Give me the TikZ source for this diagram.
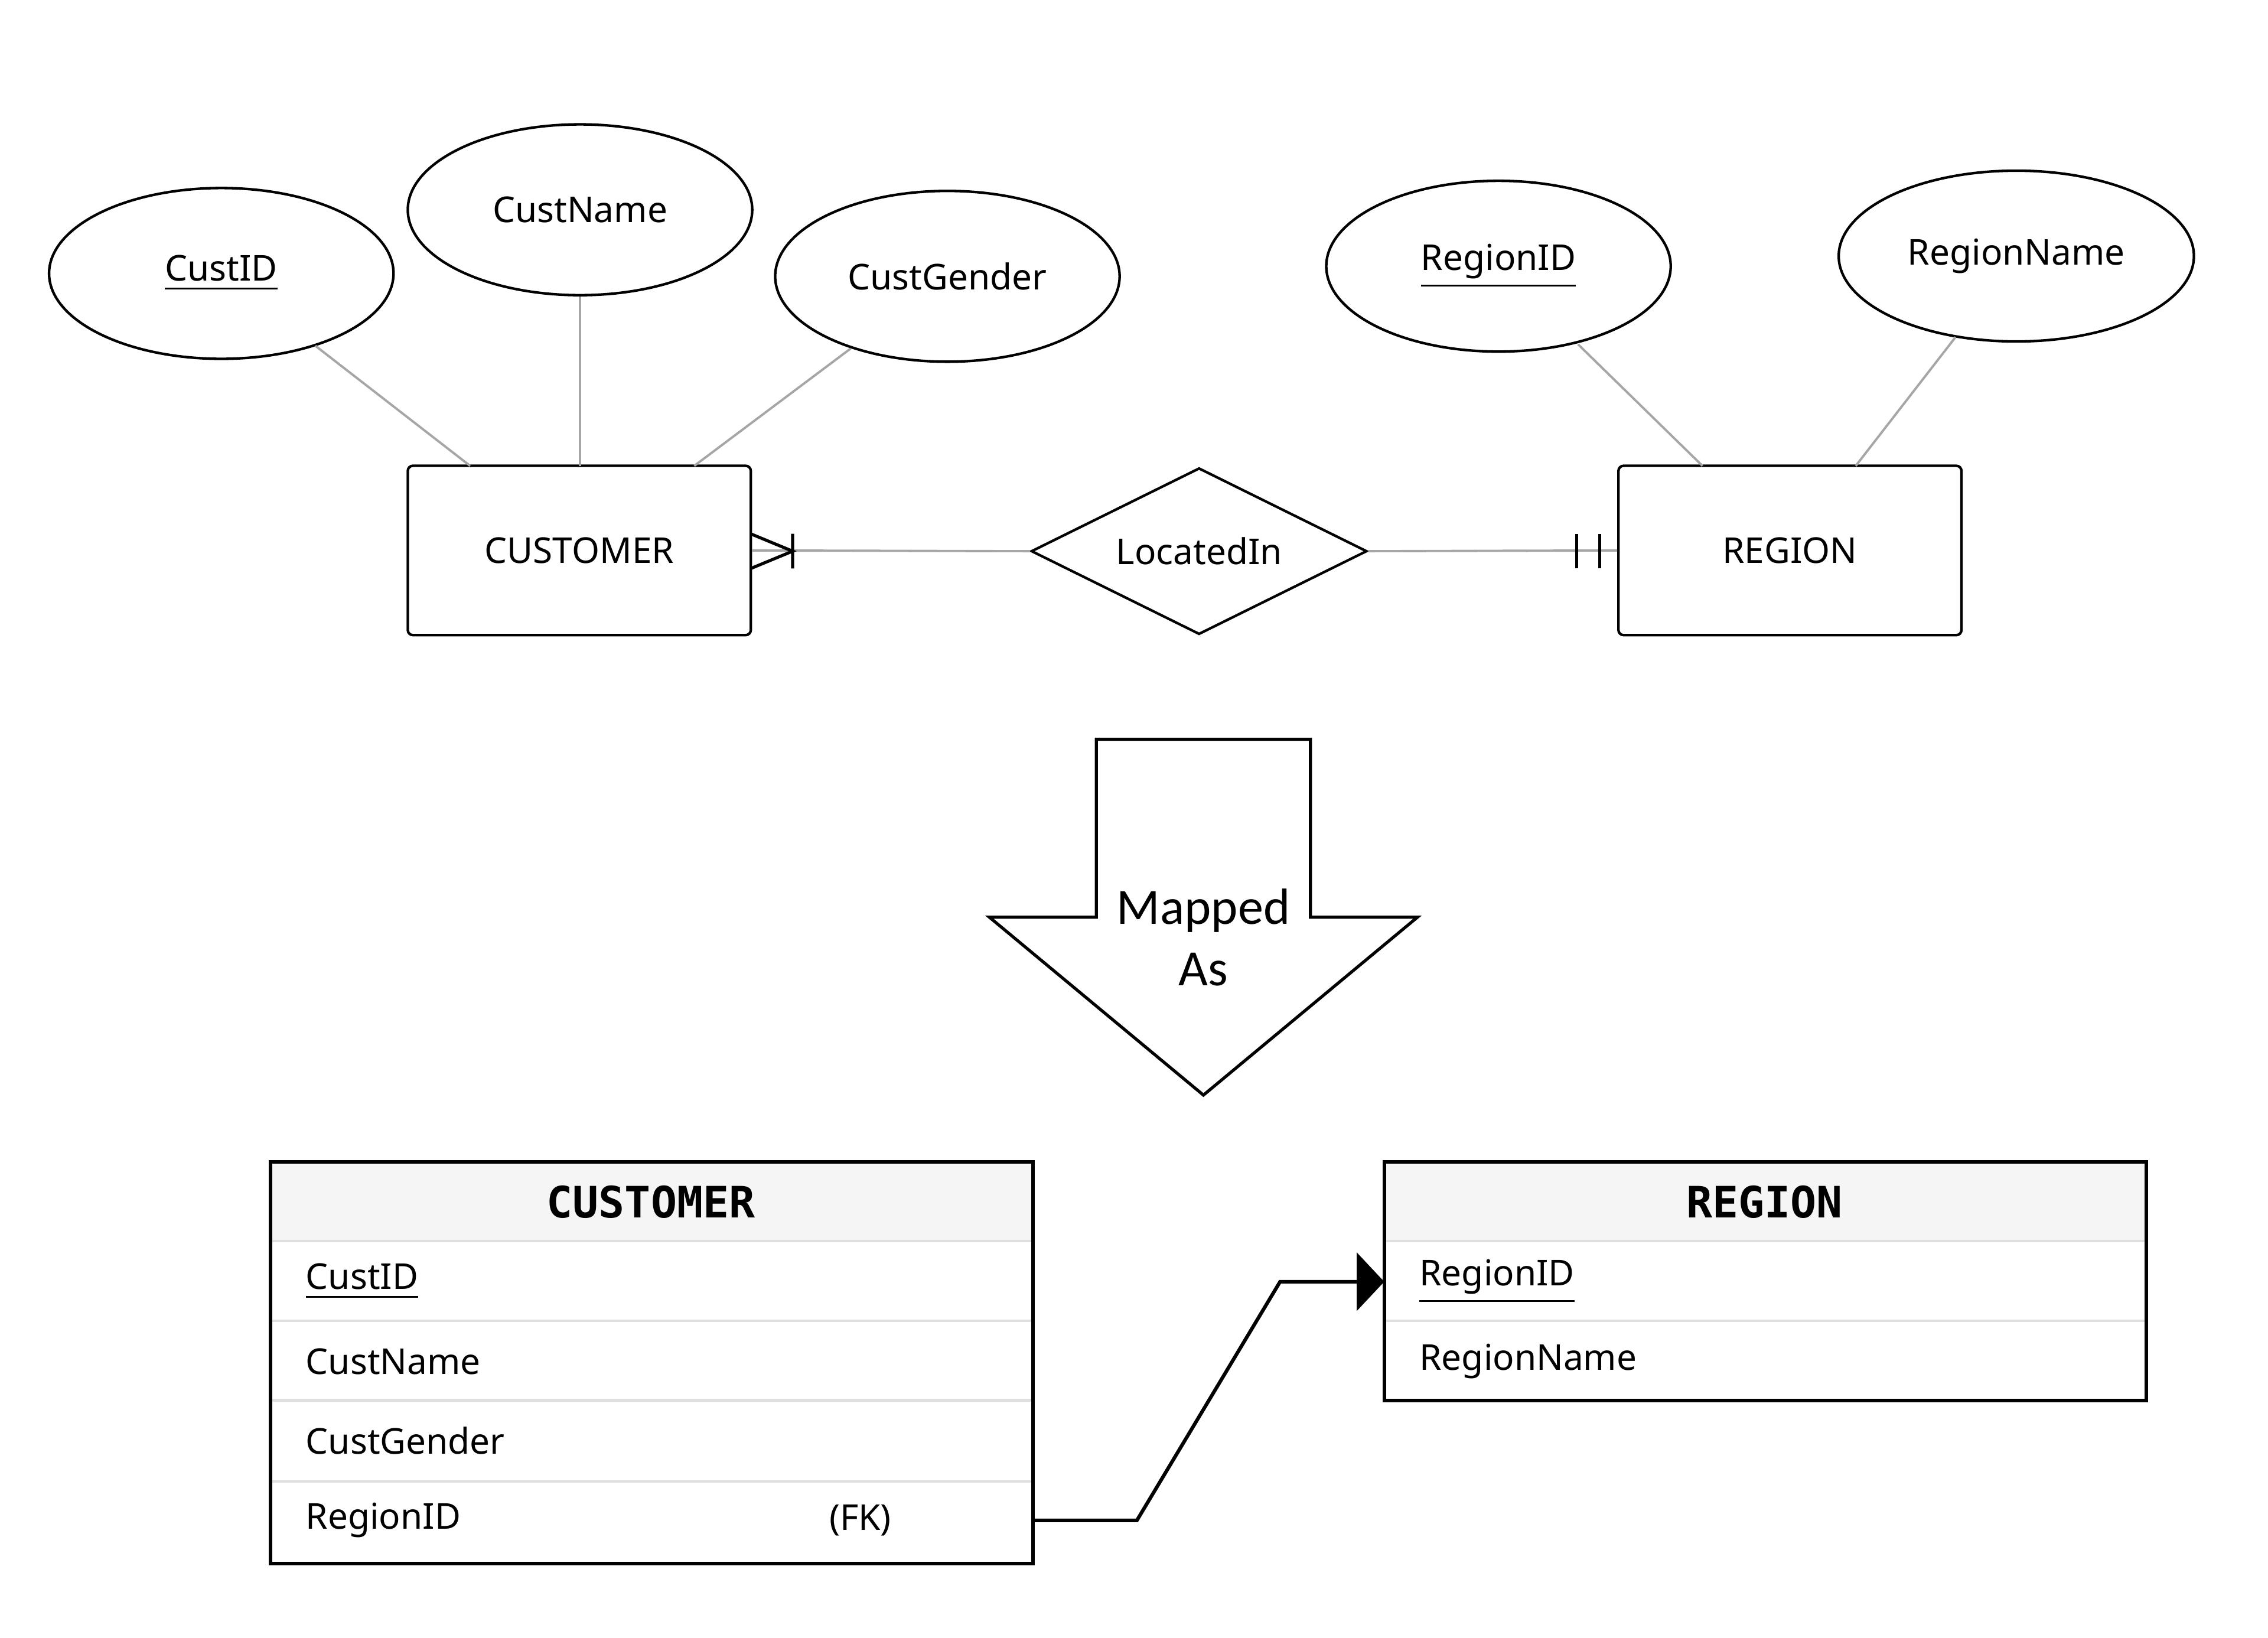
\documentclass[tikz,border=0pt]{standalone}
\usepackage{fontspec}
\setmainfont{Noto Sans}
\newfontfamily\mymonob{DejaVu Sans Mono}
\newfontfamily\mycarl{Carlito}
\usetikzlibrary{shapes.geometric,arrows.meta}
\begin{document}
\begin{tikzpicture}[x=0.01cm,y=-0.01cm,
  attr/.style={draw,ellipse,minimum width=2.38cm,minimum height=1.18cm,font=\fontsize{7}{8}\selectfont,line width=0.5pt},
  ent/.style={draw,rounded corners=1pt,minimum width=2.37cm,minimum height=1.17cm,font=\fontsize{7}{8}\selectfont,line width=0.5pt},
  conn/.style={draw=gray!70,line width=0.45pt},
  cell/.style={anchor=west,font=\fontsize{7}{8}\selectfont},
  hdr/.style={font=\mymonob\bfseries\fontsize{8.5}{10}\selectfont}]
\useasboundingbox (0,0) rectangle (1568,1132);
% ER
\node[attr] (cid) at (153,189) {\underline{CustID}};
\node[attr] (cname) at (401,145) {CustName};
\node[attr] (cgen) at (655,191) {CustGender};
\node[attr] (rid) at (1036,184) {\underline{RegionID}};
\node[attr] (rname) at (1394,177) {RegionName};
\node[ent] (cust) at (400.5,380.5) {CUSTOMER};
\node[ent] (reg) at (1237.5,380.5) {REGION};
\node[draw,diamond,aspect=2,minimum width=2.32cm,minimum height=1.15cm,inner sep=0pt,font=\fontsize{7}{8}\selectfont,line width=0.5pt] (loc) at (829,381) {LocatedIn};
\coordinate (c1) at (325,322); \coordinate (c2) at (401,322); \coordinate (c3) at (480,322);
\coordinate (r1) at (1177,322); \coordinate (r2) at (1283,322);
\draw[conn] (218,239) -- (c1);
\draw[conn] (cname) -- (c2);
\draw[conn] (588,241) -- (c3);
\draw[conn] (1091,238) -- (r1);
\draw[conn] (1352,233) -- (r2);
\draw[conn] (cust.east) -- (loc.west);
\draw[conn] (loc.east) -- (reg.west);
\draw[line width=0.6pt] (519,369) -- (548,381) -- (519,393) (548,369) -- (548,393);
\draw[line width=0.6pt] (1090,369) -- (1090,393) (1106,369) -- (1106,393);
% big arrow
\draw[line width=0.6pt] (758,511) -- (906,511) -- (906,634) -- (980,634) -- (832,757) -- (684,634) -- (758,634) -- cycle;
\node[font=\mycarl\fontsize{10}{12}\selectfont,align=center] (ma) at (832,648) {Mapped\\As};
% tables
\fill[gray!8] (187,803) rectangle (714,858);
\fill[gray!8] (957,803) rectangle (1484,858);
\foreach \y in {858,913,968,1024} \draw[gray!25,line width=0.5pt] (187,\y) -- (714,\y);
\foreach \y in {858,913} \draw[gray!25,line width=0.5pt] (957,\y) -- (1484,\y);
\draw[line width=0.7pt] (187,803) rectangle (714,1081);
\draw[line width=0.7pt] (957,803) rectangle (1484,968);
\node[hdr] (th1) at (450,831) {CUSTOMER};
\node[hdr] (th2) at (1220,831) {REGION};
\node[cell] (t1) at (199,886) {\bfseries\underline{CustID}};
\node[cell] (t2) at (199,941) {CustName};
\node[cell] (t3) at (199,996) {CustGender};
\node[cell] (t4) at (199,1051) {RegionID};
\node[cell] (fk) at (561,1051) {(FK)};
\node[cell] (u1) at (969,886) {\bfseries\underline{RegionID}};
\node[cell] (u2) at (969,941) {RegionName};
\coordinate (fa) at (714,1051); \coordinate (fb) at (957,886);
\draw[line width=0.7pt,-{Triangle[length=0.19cm,width=0.4cm]}] (fa) -- (786,1051) -- (885,886) -- (fb);
\end{tikzpicture}
\end{document}
